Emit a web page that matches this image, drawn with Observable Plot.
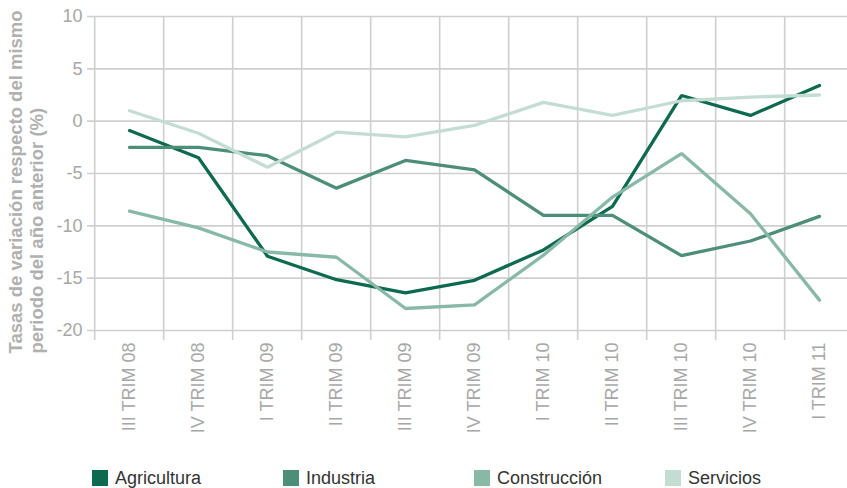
<!DOCTYPE html>
<html>
<head>
<meta charset="utf-8">
<script src="https://cdn.jsdelivr.net/npm/d3@7"></script>
<script src="https://cdn.jsdelivr.net/npm/@observablehq/plot@0.6"></script>
<style>
  html, body { margin: 0; padding: 0; background: #fff; }
  body { width: 847px; height: 488px; overflow: hidden; position: relative; font-family: "Liberation Sans", Arial, sans-serif; }
  #legend { position: absolute; left: 0; top: 468px; width: 847px; height: 20px; }
  .item { position: absolute; top: 0; display: flex; align-items: center; font-size: 18px; line-height: 20px; color: #333; }
  .sw { width: 16px; height: 16px; margin-right: 7px; }
</style>
</head>
<body>
<div id="chart"></div>
<div id="legend"></div>
<script>
const categories = ["III TRIM 08","IV TRIM 08","I TRIM 09","II TRIM 09","III TRIM 09","IV TRIM 09","I TRIM 10","II TRIM 10","III TRIM 10","IV TRIM 10","I TRIM 11"];
const seriesNames = ["Agricultura","Industria","Construcción","Servicios"];
const agricultura  = [-0.9, -3.5, -12.9, -15.15, -16.4, -15.2, -12.3, -8.15, 2.45, 0.55, 3.4];
const industria    = [-2.5, -2.5, -3.3, -6.4, -3.75, -4.65, -9.0, -9.0, -12.85, -11.45, -9.1];
const construccion = [-8.6, -10.2, -12.5, -13.0, -17.9, -17.55, -12.8, -7.25, -3.1, -8.85, -17.1];
const servicios    = [1.0, -1.15, -4.4, -1.05, -1.5, -0.4, 1.8, 0.55, 1.95, 2.3, 2.5];
const yTicks = [-20, -15, -10, -5, 0, 5, 10];
const yTitle = "Tasas de variación respecto del mismo\nperiodo del año anterior (%)";

const colors = ["#0d6a4f", "#4d8e78", "#88b8a6", "#c4ddd3"];
const gridColor = "#cfcfcf";
const textColor = "#a7a7a7";

const seriesValues = [agricultura, industria, construccion, servicios];
const rows = seriesNames.flatMap((s, si) =>
  seriesValues[si].map((v, i) => ({serie: s, cat: categories[i], v})));

const W = 847, H = 460, mL = 91, mR = -10, mT = 16, mB = 130;
const step = (W - mR - mL) / categories.length;

const chart = Plot.plot({
  width: W, height: H,
  marginLeft: mL, marginRight: mR, marginTop: mT, marginBottom: mB,
  style: {fontFamily: '"Liberation Sans", Arial, sans-serif', fontSize: "18px", color: textColor, background: "white", overflow: "visible"},
  x: {type: "point", domain: categories, padding: 0.5},
  y: {domain: [-20, 10]},
  color: {domain: seriesNames, range: colors},
  marks: [
    Plot.ruleY(yTicks, {y: d => d, stroke: gridColor, strokeWidth: 1.6, insetLeft: -4}),
    Plot.ruleX(categories, {x: d => d, dx: -step / 2, stroke: gridColor, strokeWidth: 1.6, insetBottom: -10}),
    Plot.axisY({ticks: yTicks, tickFormat: d => String(d), tickSize: 0, tickPadding: 9, fontSize: 18, fill: textColor, label: null}),
    Plot.axisX({tickRotate: -90, tickSize: 0, tickPadding: 12, fontSize: 18, fill: textColor, label: null}),
    Plot.line(rows, {x: "cat", y: "v", z: "serie", stroke: "serie", strokeWidth: 3.3, strokeLinejoin: "miter"}),
    Plot.text([yTitle], {frameAnchor: "bottom-left", text: d => d, rotate: -90, textAnchor: "start", lineAnchor: "top",
      dx: 7 - mL, dy: 353 - (H - mB), fontSize: 18.5, fontWeight: "bold", fill: "#b0b0b0", lineHeight: 1.12})
  ]
});
document.getElementById("chart").append(chart);

const legend = document.getElementById("legend");
const legendX = [92, 283, 474, 665];
seriesNames.forEach((s, i) => {
  const it = document.createElement("div");
  it.className = "item";
  it.style.left = legendX[i] + "px";
  const sw = document.createElement("div");
  sw.className = "sw";
  sw.style.background = colors[i];
  const t = document.createElement("span");
  t.textContent = s;
  it.append(sw, t);
  legend.append(it);
});
</script>
</body>
</html>
